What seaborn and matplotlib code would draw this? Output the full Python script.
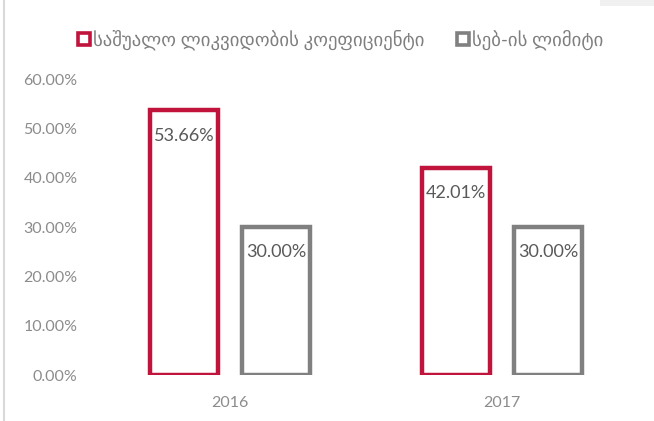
import numpy as np
import pandas as pd
import matplotlib.pyplot as plt
from matplotlib.lines import Line2D
from matplotlib.patches import Rectangle
import matplotlib.ticker as mticker
import seaborn as sns

years = ["2016", "2017"]
avg_liquidity = [0.5366, 0.4201]
nbg_limit = [0.30, 0.30]
series_names = ["საშუალო ლიკვიდობის კოეფიციენტი", "სებ-ის ლიმიტი"]
colors = ["#C0143C", "#808080"]
yticks = [0.0, 0.1, 0.2, 0.3, 0.4, 0.5, 0.6]

sns.set_style("white")
plt.rcParams["font.family"] = ["Lato", "DejaVu Sans"]

df = pd.DataFrame({
    "year": years * 2,
    "value": avg_liquidity + nbg_limit,
    "series": [series_names[0]] * 2 + [series_names[1]] * 2,
})

fig = plt.figure(figsize=(6.54, 4.21), dpi=100)
ax = fig.add_axes([0.144, 0.109, 0.832, 0.703])

sns.barplot(
    data=df, x="year", y="value", hue="series",
    palette=dict(zip(series_names, colors)),
    fill=False, linewidth=3.2, width=0.676, gap=0.26,
    errorbar=None, legend=False, ax=ax,
)

for cont in ax.containers:
    ax.bar_label(cont, labels=[f"{v * 100:.2f}%" for v in cont.datavalues],
                 padding=-24, fontsize=13, color="#595959")

ax.set_ylim(0, 0.6)
ax.set_xlim(-0.5, 1.5)
ax.set_yticks(yticks)
ax.yaxis.set_major_formatter(mticker.FuncFormatter(lambda v, p: f"{v * 100:.2f}%"))
ax.tick_params(axis="y", length=0, pad=12, labelsize=11.5, labelcolor="#8c8c8c")
ax.tick_params(axis="x", length=0, pad=15, labelsize=11.5, labelcolor="#8c8c8c")
ax.set_xlabel("")
ax.set_ylabel("")
sns.despine(ax=ax, left=True, bottom=True)

handles = [Line2D([], [], marker="s", linestyle="", markersize=8,
                  markerfacecolor="white", markeredgecolor=c, markeredgewidth=2.6)
           for c in colors]
fig.legend(handles, series_names, loc="center", bbox_to_anchor=(0.522, 0.905),
           ncol=2, frameon=False, fontsize=13.5, labelcolor="#7f7f7f",
           handlelength=0.5, handletextpad=0.25, columnspacing=1.8)

# chart frame bits
fig.add_artist(Line2D([0.006, 0.006], [0, 1], transform=fig.transFigure,
                      color="#d9d9d9", linewidth=1.5))
fig.add_artist(Rectangle((0.918, 0.985), 0.082, 0.015, transform=fig.transFigure,
                         facecolor="#f0f0f0", edgecolor="none"))

fig.savefig("out.png", dpi=100)
